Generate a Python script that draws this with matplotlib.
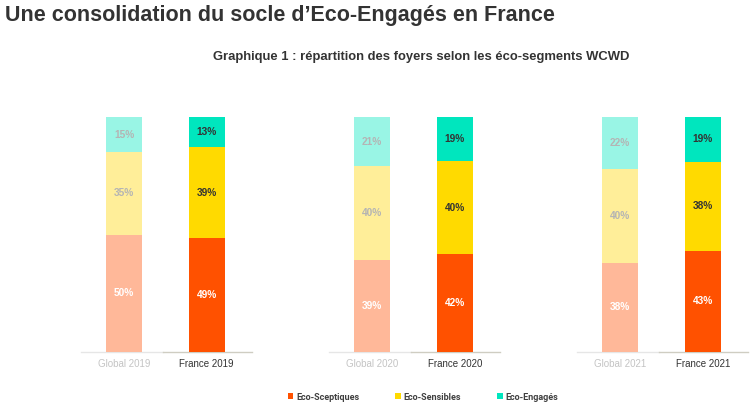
import matplotlib
matplotlib.use("Agg")
import matplotlib.pyplot as plt
import numpy as np

# ---- data ----
categories = ["Global 2019", "France 2019", "Global 2020", "France 2020", "Global 2021", "France 2021"]
sceptiques = [50, 49, 39, 42, 38, 43]
sensibles = [35, 39, 40, 40, 40, 38]
engages = [15, 13, 21, 19, 22, 19]
series_names = ["Eco-Sceptiques", "Eco-Sensibles", "Eco-Engagés"]
title = "Une consolidation du socle d\u2019Eco-Engagés en France"
subtitle = "Graphique 1 : répartition des foyers selon les éco-segments WCWD"

# ---- style ----
W, H = 750, 405
fig = plt.figure(figsize=(W / 100, H / 100), dpi=100)
plt.rcParams['font.family'] = ['Liberation Sans', 'DejaVu Sans']

france_cols = ["#FF5100", "#FFDA00", "#00E6BE"]
global_cols = ["#FFB899", "#FFEE99", "#99F5E5"]

# axes: baseline at y=352px, top (100%) at y=117px
ax = fig.add_axes([0, (H - 352) / H, 1, 235 / H])
unit = 82.7
x0px = 124
ax.set_xlim(-x0px / unit, (W - x0px) / unit)
ax.set_ylim(0, 100)
for s in ax.spines.values():
    s.set_visible(False)
ax.set_yticks([])

xpos = np.array([0, 1, 3, 4, 6, 7], dtype=float)
data = np.array([sceptiques, sensibles, engages], dtype=float)
totals = data.sum(axis=0)
norm = data / totals * 100

bar_w = 0.44
handles = []
for i, x in enumerate(xpos):
    is_fr = categories[i].startswith("France")
    cols = france_cols if is_fr else global_cols
    bottom = 0
    for k in range(3):
        b = ax.bar(x, norm[k, i], bottom=bottom, width=bar_w, color=cols[k],
                   edgecolor="none", zorder=2)
        if is_fr and i == 1:
            handles.append(b)
        if k == 0:
            tc = "white"
        else:
            tc = "#333333" if is_fr else "#b4b4b4"
        ax.text(x, bottom + norm[k, i] / 2, f"{int(data[k, i])}%", ha="center", va="center",
                fontsize=7.3, fontweight="bold", color=tc, zorder=3)
        bottom += norm[k, i]

# baselines per group
for g in range(3):
    c = xpos[2 * g]
    ax.plot([c - 0.52, c + 0.47], [0, 0], color="#e6e6e6", lw=1.0, zorder=1, clip_on=False)
    ax.plot([c + 0.47, c + 1.55], [0, 0], color="#cfcdc2", lw=1.0, zorder=1, clip_on=False)

ax.set_xticks(xpos)
ax.set_xticklabels(categories, fontsize=7)
ax.tick_params(axis="x", length=0, pad=5)
for lbl, cat in zip(ax.get_xticklabels(), categories):
    lbl.set_color("#333333" if cat.startswith("France") else "#c4c4c4")

fig.text(5 / W, 1 - 16 / H, title, fontsize=15.5, fontweight="bold", color="#333333",
         ha="left", va="center")
fig.text(421 / W, 1 - 57 / H, subtitle, fontsize=9.4, fontweight="bold", color="#333333",
         ha="center", va="center")

leg = fig.legend(handles, series_names, loc="center", bbox_to_anchor=(423 / W, 1 - 397 / H),
                 ncol=3, frameon=False, prop={"family": "Roboto", "weight": "bold", "size": 6.5},
                 handlelength=0.6, handleheight=0.6, handletextpad=0.3, columnspacing=4.0,
                 labelcolor="#404040")

fig.savefig("out.png", dpi=100)
